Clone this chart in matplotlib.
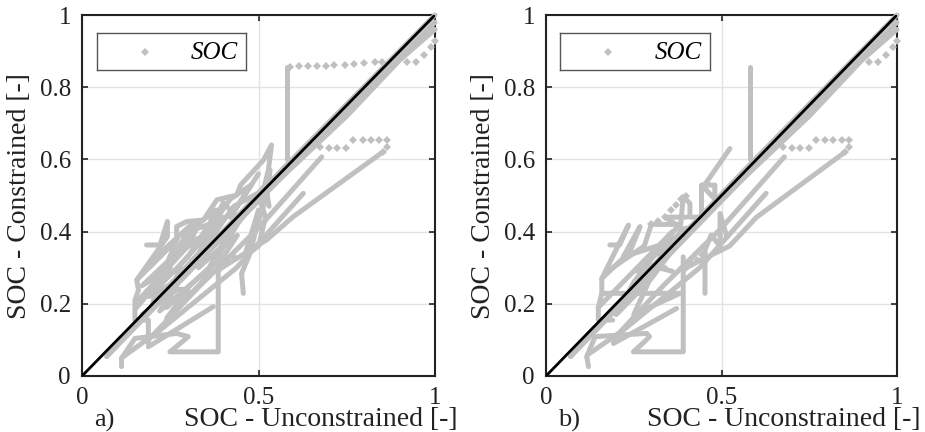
import matplotlib
matplotlib.use('Agg')
import matplotlib.pyplot as plt
from matplotlib.lines import Line2D

plt.rcParams['font.family'] = ['Liberation Serif', 'DejaVu Serif']

GREY = '#c0c0c0'
INK = '#222222'

x_ticks = [0, 0.5, 1]
x_labels = ['0', '0.5', '1']
y_ticks = [0, 0.2, 0.4, 0.6, 0.8, 1]
y_labels = ['0', '0.2', '0.4', '0.6', '0.8', '1']
ideal = [0, 1]

# thick traces, the samples sit so close they merge into a line
a_band_top = [(0.07, 0.054), (0.30, 0.30), (0.58, 0.585), (1.0, 1.0)]
a_band_mid = [(0.35, 0.335), (0.60, 0.585), (0.80, 0.785), (1.0, 0.98)]
a_band_low = [(0.07, 0.054), (0.30, 0.285), (0.50, 0.49), (0.75, 0.72), (0.90, 0.875), (1.0, 0.96)]
a_hook = [(0.112, 0.026), (0.112, 0.049), (0.15, 0.104), (0.268, 0.118), (0.301, 0.109),
          (0.278, 0.09), (0.249, 0.067), (0.386, 0.067), (0.386, 0.331)]
a_short = [(0.188, 0.081), (0.372, 0.192)]
a_line_1 = [(0.112, 0.05), (0.221, 0.127), (0.363, 0.24), (0.438, 0.30), (0.627, 0.506)]
a_line_2 = [(0.188, 0.10), (0.334, 0.25), (0.50, 0.41), (0.679, 0.607)]
a_line_3 = [(0.386, 0.294), (0.523, 0.377), (0.598, 0.441), (0.853, 0.621)]
a_zig_1 = [(0.183, 0.363), (0.221, 0.363), (0.242, 0.428), (0.242, 0.386), (0.155, 0.266),
           (0.16, 0.238), (0.15, 0.21), (0.15, 0.155), (0.188, 0.155), (0.188, 0.09)]
a_zig_2 = [(0.155, 0.266), (0.268, 0.377), (0.268, 0.414), (0.297, 0.428), (0.344, 0.432),
           (0.382, 0.488), (0.438, 0.501), (0.45, 0.53), (0.514, 0.598), (0.537, 0.64), (0.528, 0.571),
           (0.514, 0.515), (0.43, 0.47), (0.35, 0.36)]
a_zig_3 = [(0.457, 0.229), (0.452, 0.284), (0.476, 0.34), (0.495, 0.414), (0.523, 0.497), (0.533, 0.571)]
a_zig_4 = [(0.16, 0.21), (0.30, 0.36), (0.33, 0.42), (0.22, 0.27), (0.20, 0.20), (0.33, 0.34),
           (0.40, 0.44), (0.28, 0.31), (0.24, 0.19), (0.36, 0.30), (0.45, 0.45)]
a_zig_5 = [(0.17, 0.17), (0.27, 0.24), (0.30, 0.24), (0.24, 0.16), (0.34, 0.26), (0.44, 0.42),
           (0.50, 0.50), (0.52, 0.44), (0.50, 0.36), (0.46, 0.33), (0.50, 0.46)]
a_zig_6 = [(0.19, 0.30), (0.27, 0.38), (0.21, 0.24), (0.30, 0.33), (0.36, 0.42), (0.30, 0.40),
           (0.38, 0.46), (0.34, 0.38), (0.42, 0.49), (0.48, 0.53), (0.42, 0.44), (0.50, 0.56)]
a_zig_7 = [(0.155, 0.19), (0.25, 0.30), (0.17, 0.25), (0.30, 0.37), (0.38, 0.40), (0.33, 0.30),
           (0.41, 0.37), (0.46, 0.46), (0.52, 0.53), (0.53, 0.47)]
a_zig_8 = [(0.21, 0.33), (0.31, 0.42), (0.26, 0.33), (0.36, 0.40), (0.40, 0.48), (0.44, 0.44),
           (0.39, 0.35), (0.44, 0.39), (0.40, 0.33), (0.22, 0.18), (0.28, 0.27), (0.19, 0.22)]
a_drop = [(0.58, 0.60), (0.58, 0.857)]
a_traces = [a_band_top, a_band_mid, a_band_low, a_hook, a_short, a_line_1, a_line_2, a_line_3,
            a_zig_1, a_zig_2, a_zig_3, a_zig_4, a_zig_5, a_zig_6, a_zig_7, a_zig_8, a_drop]

# stretches where single samples are still visible
a_dots_x = [0.59, 0.615, 0.64, 0.665, 0.69, 0.715, 0.745, 0.77, 0.80, 0.83, 0.85, 0.92, 0.945, 0.97, 0.99, 1.0,
            0.674, 0.70, 0.723, 0.748, 0.769, 0.795, 0.818, 0.842, 0.863, 0.863, 0.853,
            0.385, 0.40, 0.415, 0.43]
a_dots_y = [0.857, 0.858, 0.858, 0.859, 0.86, 0.861, 0.862, 0.865, 0.867, 0.869, 0.869, 0.869, 0.869, 0.89, 0.912, 0.929,
            0.635, 0.632, 0.632, 0.632, 0.654, 0.654, 0.654, 0.654, 0.654, 0.635, 0.621,
            0.29, 0.305, 0.315, 0.33]

b_band_top = [(0.07, 0.054), (0.30, 0.30), (0.58, 0.585), (1.0, 1.0)]
b_band_mid = [(0.35, 0.335), (0.60, 0.585), (0.80, 0.785), (1.0, 0.98)]
b_band_low = [(0.07, 0.054), (0.30, 0.285), (0.50, 0.49), (0.75, 0.72), (0.90, 0.875), (1.0, 0.96)]
b_hook = [(0.121, 0.026), (0.116, 0.054), (0.14, 0.109), (0.287, 0.118), (0.295, 0.109),
          (0.275, 0.09), (0.249, 0.067), (0.391, 0.067), (0.391, 0.33)]
b_short = [(0.192, 0.09), (0.372, 0.187)]
b_line_1 = [(0.12, 0.06), (0.22, 0.127), (0.363, 0.24), (0.438, 0.30), (0.627, 0.506)]
b_line_2 = [(0.19, 0.10), (0.334, 0.25), (0.50, 0.41), (0.679, 0.607)]
b_line_3 = [(0.386, 0.294), (0.523, 0.36), (0.60, 0.44), (0.853, 0.621)]
b_zig_1 = [(0.182, 0.363), (0.21, 0.363), (0.235, 0.418), (0.21, 0.37), (0.159, 0.27),
           (0.159, 0.229), (0.149, 0.19), (0.149, 0.155), (0.19, 0.155)]
b_zig_2 = [(0.159, 0.27), (0.239, 0.344), (0.268, 0.414), (0.22, 0.33), (0.38, 0.38), (0.391, 0.497),
           (0.41, 0.478), (0.41, 0.44), (0.443, 0.44), (0.443, 0.529), (0.481, 0.529), (0.481, 0.49),
           (0.448, 0.524), (0.524, 0.63)]
b_zig_3 = [(0.453, 0.229), (0.453, 0.349), (0.47, 0.39), (0.496, 0.36), (0.496, 0.45), (0.515, 0.386)]
b_zig_4 = [(0.159, 0.229), (0.382, 0.229), (0.25, 0.17), (0.33, 0.34), (0.40, 0.41), (0.28, 0.31), (0.36, 0.29)]
b_zig_5 = [(0.149, 0.19), (0.30, 0.34), (0.36, 0.40), (0.25, 0.26), (0.20, 0.17), (0.30, 0.27),
           (0.40, 0.40), (0.34, 0.44), (0.40, 0.44)]
b_zig_6 = [(0.19, 0.30), (0.28, 0.36), (0.30, 0.42), (0.38, 0.42), (0.33, 0.36), (0.26, 0.29), (0.34, 0.30)]
b_drop = [(0.58, 0.60), (0.58, 0.857)]
b_traces = [b_band_top, b_band_mid, b_band_low, b_hook, b_short, b_line_1, b_line_2, b_line_3,
            b_zig_1, b_zig_2, b_zig_3, b_zig_4, b_zig_5, b_zig_6, b_drop]

b_dots_x = [0.30, 0.32, 0.34, 0.355, 0.37, 0.385, 0.40, 0.92, 0.945, 0.97, 0.99, 1.0,
            0.674, 0.70, 0.723, 0.748, 0.769, 0.795, 0.818, 0.842, 0.863, 0.863, 0.853,
            0.40, 0.415, 0.43, 0.445]
b_dots_y = [0.42, 0.43, 0.44, 0.46, 0.475, 0.49, 0.50, 0.869, 0.869, 0.89, 0.912, 0.929,
            0.635, 0.632, 0.632, 0.632, 0.654, 0.654, 0.654, 0.654, 0.654, 0.635, 0.621,
            0.30, 0.31, 0.32, 0.335]


def draw_panel(fig, box, legend_box, traces, dots_x, dots_y, tag, tag_x, label_x):
    W, H = 925.0, 432.0
    ax = fig.add_axes([box[0] / W, 1 - box[3] / H, (box[2] - box[0]) / W, (box[3] - box[1]) / H])
    ax.set_xlim(0, 1)
    ax.set_ylim(0, 1)
    ax.set_xticks(x_ticks, x_labels)
    ax.set_yticks(y_ticks, y_labels)
    ax.grid(True, color='#e2e2e2', lw=1.0)
    ax.set_axisbelow(True)
    ax.tick_params(direction='in', top=True, right=True, length=4, width=1.2, color=INK,
                   labelcolor=INK, labelsize=18, pad=8)
    for s in ax.spines.values():
        s.set_linewidth(1.5)
        s.set_color(INK)

    for t in traces:
        ax.plot([p[0] for p in t], [p[1] for p in t], color=GREY, lw=3.6,
                solid_joinstyle='round', solid_capstyle='round', clip_on=False, zorder=3)
    ax.plot(dots_x, dots_y, ls='none', marker='D', ms=3.8, color=GREY, mew=0, clip_on=False, zorder=3)
    ax.plot(ideal, ideal, color='black', lw=2.0, zorder=4)

    fig.text(label_x / W, 1 - 420 / H, 'SOC - Unconstrained [-]', ha='center', va='center',
             fontsize=20, color=INK)
    fig.text(tag_x / W, 1 - 420 / H, tag, ha='center', va='center', fontsize=19, color=INK)
    fig.text((box[0] - 62) / W, 1 - 196 / H, 'SOC - Constrained [-]', rotation=90, ha='center',
             va='center', fontsize=20, color=INK)

    lg = fig.add_axes([legend_box[0] / W, 1 - legend_box[3] / H,
                       (legend_box[2] - legend_box[0]) / W, (legend_box[3] - legend_box[1]) / H])
    lg.set_xticks([])
    lg.set_yticks([])
    for s in lg.spines.values():
        s.set_linewidth(1.0)
        s.set_color('#555555')
    lg.set_xlim(0, 1)
    lg.set_ylim(0, 1)
    lg.add_line(Line2D([0.32], [0.5], ls='none', marker='D', ms=3.6, color=GREY, mew=0))
    lg.text(0.945, 0.47, 'SOC', style='italic', ha='right', va='center', fontsize=18, color='black')


fig = plt.figure(figsize=(9.25, 4.32), dpi=100)
draw_panel(fig, (82, 15, 435, 376), (97, 33, 246, 70), a_traces, a_dots_x, a_dots_y, 'a)', 104, 321)
draw_panel(fig, (546, 15, 897, 376), (560, 33, 710, 70), b_traces, b_dots_x, b_dots_y, 'b)', 569, 784)
fig.savefig('out.png', dpi=100)
